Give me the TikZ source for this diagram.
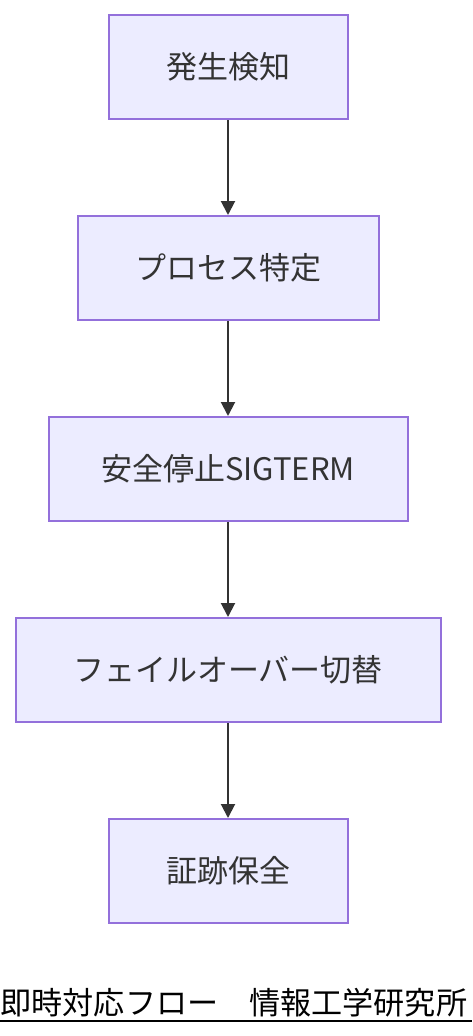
\documentclass[tikz,border=0pt]{standalone}
\usepackage{fontspec}
\setmainfont{Noto Sans CJK JP}
\usetikzlibrary{arrows.meta}
\definecolor{nodefill}{HTML}{ECECFF}
\definecolor{nodeline}{HTML}{9370DB}
\definecolor{ink}{HTML}{333333}
\tikzset{
  stepbox/.style={draw=nodeline, fill=nodefill, line width=2pt, minimum height=104pt, inner sep=0pt, text=ink, font=\fontsize{31pt}{36pt}\selectfont},
  flow/.style={draw=ink, line width=2pt, -{Triangle[length=14pt,width=14pt]}}
}
\begin{document}
\begin{tikzpicture}[x=1pt,y=-1pt]
\useasboundingbox (0,0) rectangle (472,1036);
\node[stepbox, minimum width=239pt] (n1) at (228,67) {発生検知};
\node[stepbox, minimum width=301pt] (n2) at (228,268) {プロセス特定};
\node[stepbox, minimum width=359pt] (n3) at (228,469) {安全停止SIGTERM};
\node[stepbox, minimum width=425pt] (n4) at (228,670) {フェイルオーバー切替};
\node[stepbox, minimum width=239pt] (n5) at (228,871) {証跡保全};
\draw[flow] (n1) -- (n2);
\draw[flow] (n2) -- (n3);
\draw[flow] (n3) -- (n4);
\draw[flow] (n4) -- (n5);
\node[anchor=base west, inner sep=0pt, font=\fontsize{31.1pt}{36pt}\selectfont, text=black] (title) at (0.5,1014) {即時対応フロー　情報工学研究所};
\draw[line width=2.2pt] ([yshift=-7pt]title.base west -| 0,0) -- ([yshift=-7pt]title.base east -| 472,0);
\end{tikzpicture}
\end{document}
